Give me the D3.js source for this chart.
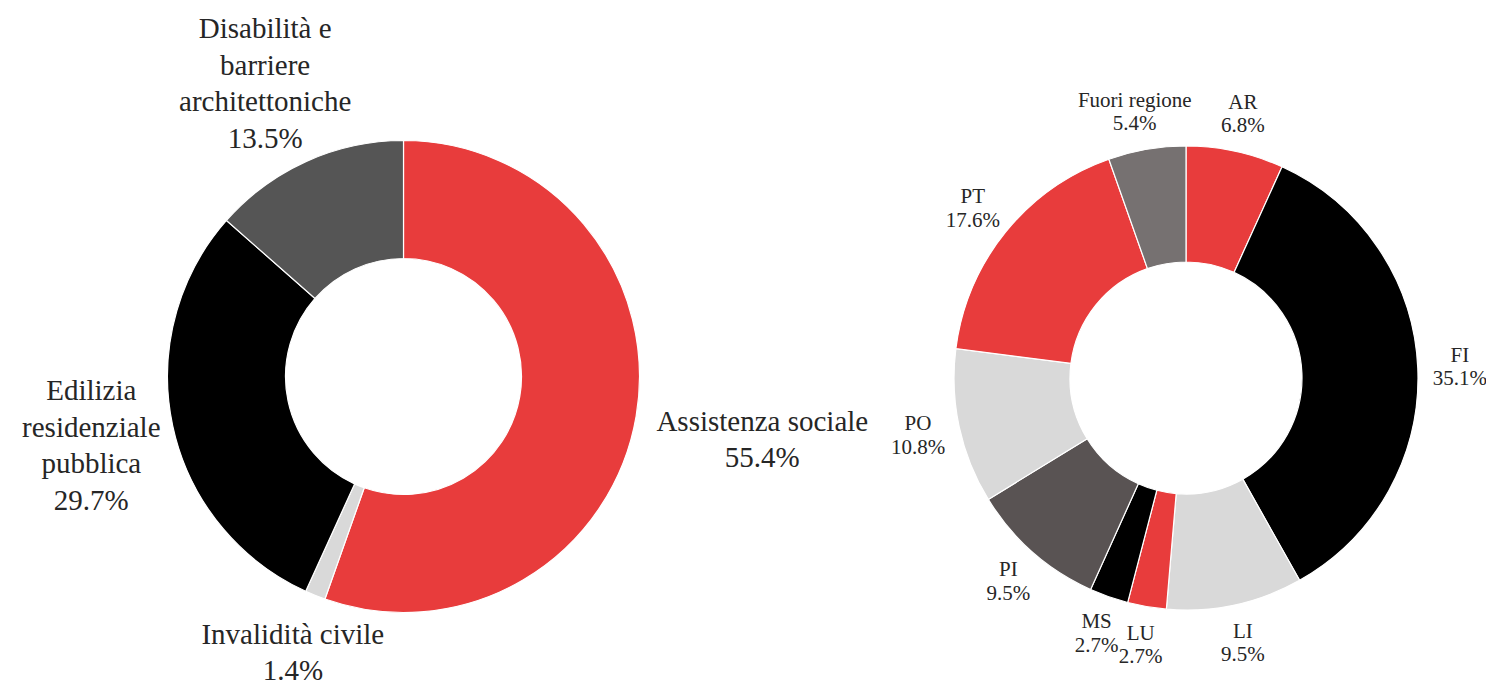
<!DOCTYPE html>
<html>
<head>
<meta charset="utf-8">
<script src="https://cdn.jsdelivr.net/npm/d3@7"></script>
<style>
    body { margin: 0; background: #fff; }
    svg { display: block; }
</style>
</head>
<body>
<svg id="chart" width="1486" height="685" font-family="Liberation Serif, Times New Roman, Times, serif"></svg>
<script>
// left donut: materia
const leftLabels = [
    ['Assistenza sociale'],
    ['Invalidità civile'],
    ['Edilizia', 'residenziale', 'pubblica'],
    ['Disabilità e', 'barriere', 'architettoniche']
];
const leftValues = [55.4, 1.4, 29.7, 13.5];
const leftColors = ['#e83c3c', '#d9d9d9', '#000000', '#555555'];

// right donut: provincia
const rightLabels = [['AR'], ['FI'], ['LI'], ['LU'], ['MS'], ['PI'], ['PO'], ['PT'], ['Fuori regione']];
const rightValues = [6.8, 35.1, 9.5, 2.7, 2.7, 9.5, 10.8, 17.6, 5.4];
const rightColors = ['#e83c3c', '#000000', '#d9d9d9', '#e83c3c', '#000000', '#595353', '#d9d9d9', '#e83c3c', '#767171'];

const svg = d3.select('#chart');

const fmt = (v) => v.toFixed(1) + '%';

function drawDonut({ cx, cy, radius, labels, values, colors, fontSize, lineHeight, gap, nudge }) {
    const g = svg.append('g').attr('transform', `translate(${cx},${cy})`);

    const pie = d3.pie().sort(null).value((d) => d.value);
    const data = pie(values.map((v, i) => ({ value: v, label: labels[i], color: colors[i] })));

    const arc = d3.arc().innerRadius(radius * 0.5).outerRadius(radius);

    g.selectAll('path')
        .data(data)
        .join('path')
        .attr('d', arc)
        .style('fill', (d) => d.data.color)
        .style('stroke', '#fff')
        .style('stroke-width', 1.2);

    // labels, placed outside the ring like the spreadsheet does
    const labelG = g.selectAll('g.label')
        .data(data)
        .join('g')
        .attr('class', 'label')
        .style('font-size', fontSize + 'px')
        .style('fill', '#262626');

    labelG.each(function (d, i) {
        const node = d3.select(this);
        const lines = [...d.data.label, fmt(d.data.value)];
        const texts = node.selectAll('text')
            .data(lines)
            .join('text')
            .attr('text-anchor', 'middle')
            .attr('y', (l, j) => j * lineHeight)
            .text((l) => l);

        let w = 0;
        texts.each(function () { w = Math.max(w, this.getComputedTextLength()); });
        const h = lines.length * lineHeight;

        const mid = (d.startAngle + d.endAngle) / 2;
        const ux = Math.sin(mid);
        const uy = -Math.cos(mid);
        const px = ux * (radius + gap);
        const py = uy * (radius + gap);
        const [nx, ny] = (nudge && nudge[i]) || [0, 0];
        const bx = px + ux * w / 2 + nx;
        const by = py + uy * h / 2 + ny;

        // first baseline so the block is centered on (bx, by)
        const top = by - h / 2;
        node.attr('transform', `translate(${bx},${top + lineHeight * 0.8})`);
    });
}

drawDonut({
    cx: 403.5, cy: 376.5, radius: 236,
    labels: leftLabels, values: leftValues, colors: leftColors,
    fontSize: 29, lineHeight: 36.5, gap: 14,
    // the two labels on the lower side were moved by hand in the original
    nudge: [[8, 13], [17, 9], [0, 0], [0, 0]]
});

drawDonut({
    cx: 1186, cy: 378, radius: 232,
    labels: rightLabels, values: rightValues, colors: rightColors,
    fontSize: 21, lineHeight: 23.5, gap: 15
});
</script>
</body>
</html>
